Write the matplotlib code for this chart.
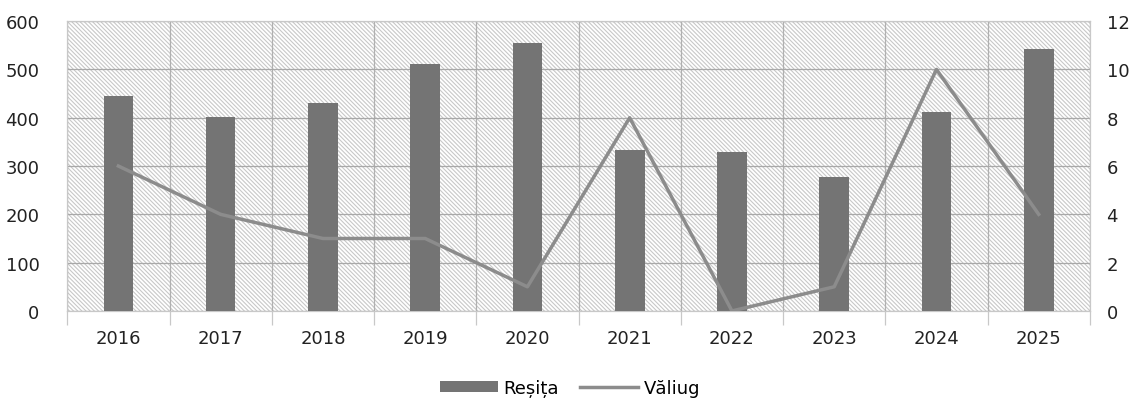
import matplotlib.pyplot as plt
import numpy as np

# date
ani = ['2016', '2017', '2018', '2019', '2020', '2021', '2022', '2023', '2024', '2025']
resita = [445, 402, 430, 511, 555, 333, 329, 277, 412, 542]
valiug = [6, 4, 3, 3, 1, 8, 0, 1, 10, 4]

plt.rcParams['font.family'] = ['DejaVu Sans']
plt.rcParams['hatch.linewidth'] = 0.8
plt.rcParams['hatch.color'] = '#c8c8c8'

fig, ax = plt.subplots(figsize=(11.4, 4.02), dpi=100)
fig.subplots_adjust(left=0.059, right=0.956, top=0.945, bottom=0.224)

x = np.arange(len(ani))

# fundal hasurat
ax.set_facecolor('white')
ax.patch.set_hatch('\\' * 8)
ax.patch.set_edgecolor('#c8c8c8')

bare = ax.bar(x, resita, width=0.29, color='#747474', label='Reșița', zorder=3)
ax.set_xlim(-0.5, len(ani) - 0.5)
ax.set_ylim(0, 600)
ax.set_yticks(range(0, 601, 100))
ax.set_xticks(x)
ax.set_xticklabels(ani)
ax.set_xticks(np.arange(-0.5, len(ani), 1), minor=True)
ax.grid(axis='y', color='#a8a8a8', linewidth=0.9, zorder=1)
ax.grid(axis='x', which='minor', color='#b0b0b0', linewidth=0.9, zorder=1)
ax.set_axisbelow(True)
ax.tick_params(axis='both', which='major', length=0, labelsize=13, colors='#222222')
ax.tick_params(axis='y', pad=20)
ax.tick_params(axis='x', pad=13)
ax.tick_params(axis='x', which='minor', length=10, color='#c8c8c8', width=0.9)
for s in ax.spines.values():
    s.set_color('#c8c8c8')
    s.set_linewidth(0.9)

ax2 = ax.twinx()
linie, = ax2.plot(x, valiug, color='#8c8c8c', linewidth=2.5, label='Văliug', zorder=4)
ax2.set_ylim(0, 12)
ax2.set_yticks(range(0, 13, 2))
ax2.tick_params(axis='y', length=0, labelsize=13, colors='#222222', pad=12)
for s in ax2.spines.values():
    s.set_visible(False)

fig.legend(handles=[bare, linie], labels=['Reșița', 'Văliug'], loc='lower center',
           bbox_to_anchor=(0.5, -0.03), ncol=2, frameon=False, fontsize=13,
           handlelength=3.2, handleheight=0.5, columnspacing=1.2, handletextpad=0.3)

plt.savefig('out.png', dpi=100)
